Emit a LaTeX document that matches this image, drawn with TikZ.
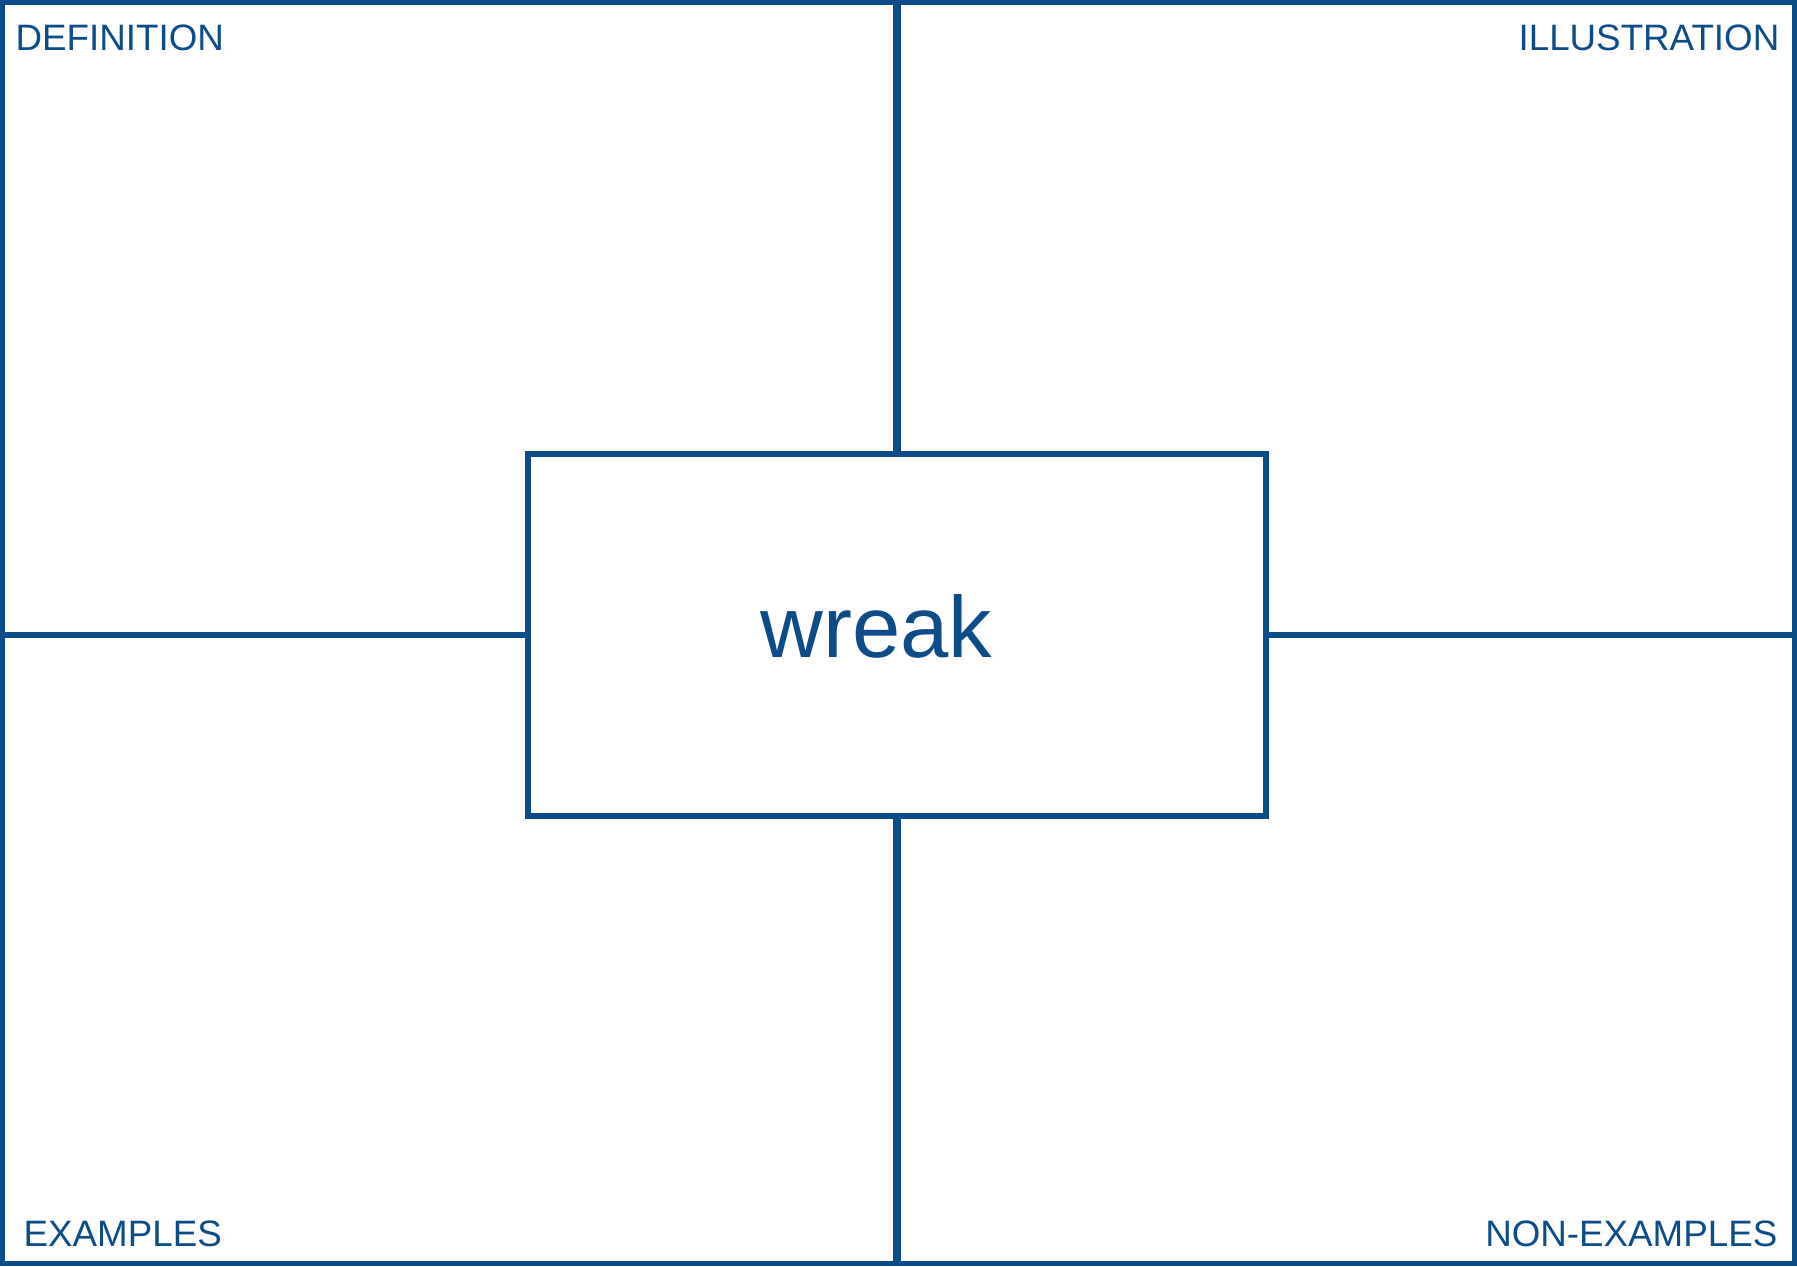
\documentclass[tikz,border=0pt]{standalone}
\usepackage{fontspec}
\setmainfont{Liberation Sans}
\definecolor{frayer}{RGB}{11,76,137}

\begin{document}
\begin{tikzpicture}[x=0.01cm,y=-0.01cm,
  rama/.style={draw=frayer, line width=0.06cm},
  gruba/.style={draw=frayer, line width=0.08cm},
  etykieta/.style={text=frayer, inner sep=0pt, font=\fontsize{10.45pt}{12pt}\selectfont},
  slowo/.style={text=frayer, inner sep=0pt, font=\fontsize{24.7pt}{30pt}\selectfont}]
  \useasboundingbox (0,0) rectangle (1797,1266);

  % ramka zewnetrzna
  \draw[draw=frayer, line width=0.05cm] (2.5,2.5) rectangle (1794.5,1263.5);

  % pole srodkowe
  \node[rama, minimum width=7.38cm, minimum height=3.62cm, inner sep=0pt] (pole) at (897,635) {};
  \node[slowo, anchor=base west] (wyraz) at (760,657) {wreak};

  % punkty na krawedziach
  \coordinate (gora) at (897,0);
  \coordinate (dol) at (897,1266);
  \coordinate (lewo) at (0,635);
  \coordinate (prawo) at (1797,635);

  % linie podzialu
  \draw[gruba] (gora) -- (pole.north);
  \draw[gruba] (pole.south) -- (dol);
  \draw[rama] (lewo) -- (pole.west);
  \draw[rama] (pole.east) -- (prawo);

  % opisy pol
  \node[etykieta, anchor=base west] (definicja) at (15,50) {DEFINITION};
  \node[etykieta, anchor=base east] (ilustracja) at (1780,50) {ILLUSTRATION};
  \node[etykieta, anchor=base west] (przyklady) at (23,1246) {EXAMPLES};
  \node[etykieta, anchor=base east] (kontrprzyklady) at (1778,1246) {NON-EXAMPLES};
\end{tikzpicture}
\end{document}
